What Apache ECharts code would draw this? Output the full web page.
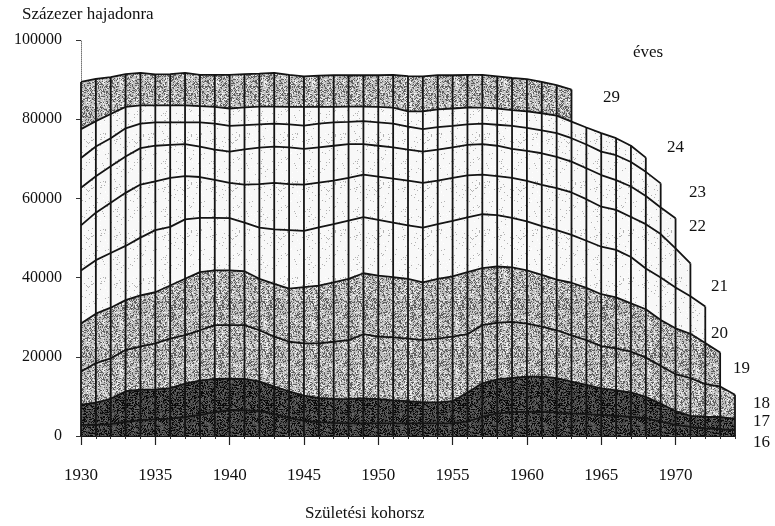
<!DOCTYPE html>
<html>
<head>
<meta charset="utf-8">
<script src="https://cdn.jsdelivr.net/npm/echarts@6/dist/echarts.min.js"></script>
<style>
  html, body { margin: 0; padding: 0; background: #fff; }
  #chart { width: 775px; height: 526px; }
</style>
</head>
<body>
<div id="chart"></div>
<script>
// születési kohorszok
const years = [1930, 1931, 1932, 1933, 1934, 1935, 1936, 1937, 1938, 1939,
  1940, 1941, 1942, 1943, 1944, 1945, 1946, 1947, 1948, 1949,
  1950, 1951, 1952, 1953, 1954, 1955, 1956, 1957, 1958, 1959,
  1960, 1961, 1962, 1963, 1964, 1965, 1966, 1967, 1968, 1969,
  1970, 1971, 1972, 1973, 1974]
const xLabels = [1930, 1935, 1940, 1945, 1950, 1955, 1960, 1965, 1970]

// kumulált első házasságkötések adott életkorig, százezer hajadonra
const age16 = [2800, 2800, 3000, 3600, 4000, 4200, 4400, 4800, 5300, 6000,
  6500, 6500, 6300, 5500, 4600, 3800, 3500, 3300, 3200, 3200,
  3200, 3200, 3200, 3200, 3200, 3200, 3700, 4800, 5700, 6000,
  6100, 6100, 5900, 5700, 5500, 5300, 5100, 4800, 4500, 3600,
  2800, 2300, 1900, 1700, 1500]
const age17 = [7900, 8400, 9400, 11300, 11700, 11700, 12100, 13200, 14000, 14400,
  14500, 14400, 13800, 12500, 11300, 10200, 9600, 9400, 9300, 9500,
  9300, 9000, 8800, 8500, 8500, 8800, 11000, 13300, 14300, 14700,
  15000, 15000, 14600, 13700, 12900, 12000, 11500, 11000, 9900, 8100,
  6300, 5100, 4900, 4800, 4300]
const age18 = [16300, 18400, 19600, 21700, 22600, 23400, 24600, 25500, 26700, 28000,
  28000, 28000, 26700, 25100, 23800, 23400, 23400, 23800, 24200, 25700,
  25100, 24900, 24600, 24200, 24600, 25100, 25700, 28000, 28600, 28800,
  28400, 27600, 26700, 25400, 24200, 22700, 22100, 21300, 19800, 17700,
  15600, 14600, 13100, 12500, 10400]
const age19 = [28400, 30900, 32400, 34300, 35500, 36300, 38000, 39700, 41400, 41800,
  41800, 41600, 39700, 38400, 37200, 37600, 38000, 38800, 39700, 41100,
  40500, 40100, 39700, 38800, 39700, 40300, 41400, 42400, 42800, 42600,
  41800, 40700, 39500, 38700, 37400, 35800, 35000, 33500, 32000, 29300,
  27200, 25800, 23500, 21100]
const age20 = [41800, 44400, 46200, 48000, 50100, 52000, 52800, 54700, 55100, 55100,
  55000, 53900, 52600, 52200, 52000, 51800, 52700, 53500, 54400, 55300,
  54600, 53900, 53200, 52600, 53500, 54300, 55200, 56000, 55800, 55100,
  54200, 53000, 52000, 50800, 49300, 47800, 47000, 45200, 42300, 40000,
  37500, 35300, 32700]
const age21 = [53200, 56400, 58900, 61400, 63500, 64300, 65200, 65600, 65400, 64700,
  63900, 63500, 63600, 63900, 63600, 63500, 64000, 64500, 65200, 66000,
  65500, 65000, 64500, 63900, 64500, 65200, 65800, 66000, 65600, 65200,
  64400, 63400, 62600, 61500, 59800, 57900, 57100, 55300, 53500, 51000,
  47400, 43600]
const age22 = [62700, 65600, 68100, 70600, 72700, 73300, 73500, 73700, 73100, 72300,
  71800, 72400, 72800, 73100, 72900, 72500, 72900, 73300, 73700, 73700,
  73300, 72900, 72300, 71800, 72300, 72900, 73500, 73700, 73300, 72500,
  72000, 71400, 70500, 69300, 67600, 65900, 64600, 63000, 60600, 57700,
  55000]
const age23 = [70200, 73100, 75200, 77700, 78900, 79200, 79200, 79200, 79200, 78900,
  78300, 78500, 78700, 78900, 78700, 78400, 78900, 79200, 79300, 79500,
  79200, 78900, 78100, 77500, 78000, 78300, 78700, 78900, 78600, 78300,
  77800, 77200, 76500, 75200, 73600, 71800, 70900, 69200, 66700, 63800]
const age24 = [77500, 79500, 81300, 83100, 83500, 83500, 83500, 83500, 83300, 83100,
  82700, 83000, 83200, 83200, 83100, 83100, 83100, 83100, 83200, 83200,
  83100, 82900, 82000, 82000, 82500, 82700, 82900, 82900, 82700, 82300,
  82000, 81500, 80900, 79400, 77900, 76500, 75200, 73300, 70300]
const age29 = [89400, 90200, 90600, 91400, 91700, 91300, 91400, 91700, 91200, 91200,
  91200, 91400, 91500, 91700, 91200, 90800, 91000, 91100, 91100, 91100,
  91100, 91200, 90900, 90800, 91100, 91100, 91200, 91200, 90800, 90400,
  90100, 89400, 88600, 87500]

const FONT = 'Liberation Serif'
const INK = '#141414'

// pontozott (raszteres) kitöltés, mint a nyomtatott ábrán
function stipple(base, spread, density, seed) {
  const size = 48
  const c = document.createElement('canvas')
  c.width = size
  c.height = size
  const ctx = c.getContext('2d')
  const img = ctx.createImageData(size, size)
  for (let y = 0; y < size; y++) {
    for (let x = 0; x < size; x++) {
      let h = (x * 374761393 + y * 668265263 + seed * 2147483647) | 0
      h = Math.imul(h ^ (h >>> 13), 1274126177)
      h = (h ^ (h >>> 16)) >>> 0
      const r = (h % 1000) / 1000
      let v = base
      if (r < density) v = base - spread
      else if (r > 1 - density * 0.6) v = base + spread * 0.5
      v = Math.max(0, Math.min(255, v))
      const k = (y * size + x) * 4
      img.data[k] = img.data[k + 1] = img.data[k + 2] = v
      img.data[k + 3] = 255
    }
  }
  ctx.putImageData(img, 0, 0)
  return { image: c, repeat: 'repeat' }
}

const MID = stipple(190, 95, 0.3, 1)
const LIGHT = stipple(248, 70, 0.04, 2)
const DARK = stipple(70, 60, 0.35, 3)

// sorrend: felülről lefelé, hogy a kisebb terület a nagyobbra kerüljön
const layers = [
  { arr: age29, color: MID },
  { arr: age24, color: LIGHT },
  { arr: age23, color: LIGHT },
  { arr: age22, color: LIGHT },
  { arr: age21, color: LIGHT },
  { arr: age20, color: LIGHT },
  { arr: age19, color: MID },
  { arr: age18, color: MID },
  { arr: age17, color: DARK },
  { arr: age16, color: DARK },
]

const toPairs = arr => arr.map((v, i) => [years[i], v])

// függőleges vonalak: minden kohorsznál a legfelső ismert érték
const topValues = years.map((y, i) => {
  let m = 0
  layers.forEach(l => { if (l.arr[i] != null && l.arr[i] > m) m = l.arr[i] })
  return [y, m]
})

const series = layers.map((l, idx) => ({
  type: 'line',
  data: toPairs(l.arr),
  symbol: 'none',
  silent: true,
  z: 2 + idx,
  lineStyle: { color: INK, width: 1.8 },
  areaStyle: { color: l.color, opacity: 1 },
}))

series.push({
  type: 'bar',
  data: topValues,
  barWidth: 1.8,
  silent: true,
  z: 30,
  itemStyle: { color: INK },
})

const axisText = { color: '#111', fontFamily: FONT, fontSize: 17 }
const txt = (text, left, top) => ({
  type: 'text', left, top,
  style: { text, font: '17px "Liberation Serif"', fill: '#111' },
})

const chart = echarts.init(document.getElementById('chart'))
chart.setOption({
  animation: false,
  grid: { left: 81, right: 40, top: 40, bottom: 90 },
  xAxis: [
    {
      type: 'value', min: 1930, max: 1974, interval: 1,
      axisLine: { show: true, onZero: false, lineStyle: { color: INK, width: 1.8 } },
      axisTick: { show: true, length: 3, lineStyle: { color: '#333' } },
      axisLabel: { show: false },
      splitLine: { show: false },
    },
    {
      type: 'value', min: 1930, max: 1974, position: 'bottom',
      axisLine: { show: false },
      axisTick: { show: true, length: 9, customValues: xLabels, lineStyle: { color: '#222', width: 1.2 } },
      axisLabel: { ...axisText, margin: 31, customValues: xLabels, formatter: v => String(v) },
      splitLine: { show: false },
    },
  ],
  yAxis: {
    type: 'value', min: 0, max: 100000, interval: 20000,
    axisLine: { show: true, lineStyle: { color: '#777', type: 'dotted', width: 1 } },
    axisTick: { show: true, length: 5, lineStyle: { color: '#333' } },
    axisLabel: { ...axisText, fontSize: 16, margin: 19, padding: [8, 0, 0, 0], formatter: v => String(v) },
    splitLine: { show: false },
  },
  series: series,
  graphic: [
    txt('Százezer hajadonra', 22, 6),
    txt('Születési kohorsz', 305, 505),
    txt('éves', 633, 44),
    txt('29', 603, 89),
    txt('24', 667, 139),
    txt('23', 689, 184),
    txt('22', 689, 218),
    txt('21', 711, 278),
    txt('20', 711, 325),
    txt('19', 733, 360),
    txt('18', 753, 395),
    txt('17', 753, 413),
    txt('16', 753, 434),
  ],
})
</script>
</body>
</html>
